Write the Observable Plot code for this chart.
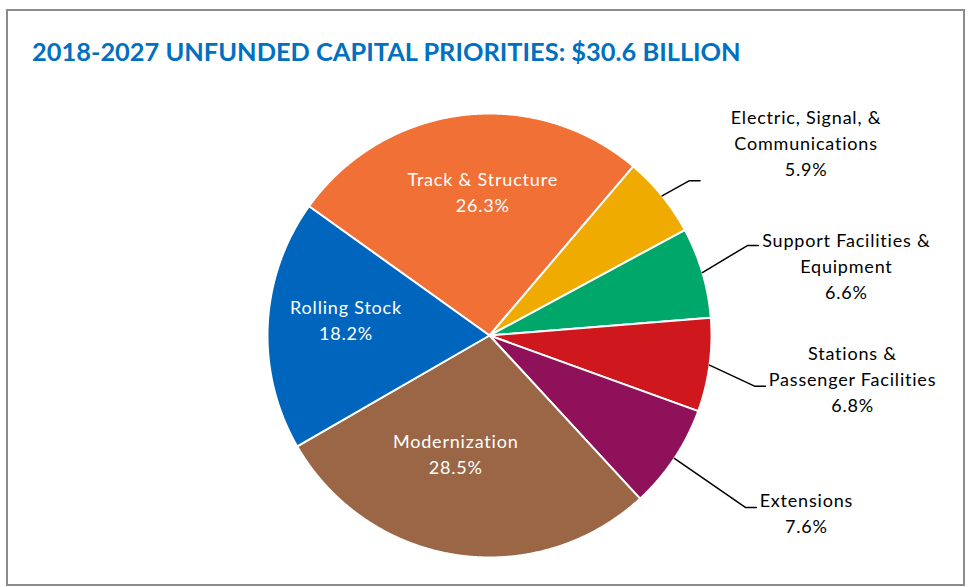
<!DOCTYPE html>
<html><head><meta charset="utf-8">
<script src="https://cdn.jsdelivr.net/npm/d3@7"></script>
<script src="https://cdn.jsdelivr.net/npm/@observablehq/plot@0.6"></script>
<style>
body{margin:0;background:#fff;}
#wrap{position:relative;width:969px;height:587px;overflow:hidden;}
#frame{position:absolute;left:6px;top:9px;width:959px;height:577px;border:2px solid #8c8c8c;box-sizing:border-box;}
#title{position:absolute;left:32px;top:36px;font-family:Lato,"Open Sans",sans-serif;font-weight:bold;font-size:25.4px;color:#0070C0;white-space:nowrap;}
#chart{position:absolute;left:0;top:0;}
</style></head>
<body><div id="wrap"><div id="frame"></div><div id="chart"></div><div id="title">2018-2027 UNFUNDED CAPITAL PRIORITIES: $30.6 BILLION</div></div>
<script>
// ---- data ----
const categories = ["Track & Structure", "Electric, Signal, & Communications", "Support Facilities & Equipment", "Stations & Passenger Facilities", "Extensions", "Modernization", "Rolling Stock"];
const labelText = ["Track & Structure", "Electric, Signal, &\nCommunications", "Support Facilities &\nEquipment", "Stations &\nPassenger Facilities", "Extensions", "Modernization", "Rolling Stock"];
const shares = [26.3, 5.9, 6.6, 6.8, 7.6, 28.5, 18.2];
const colors = ["#F17035", "#EFAB00", "#00A76B", "#CF181E", "#8F1159", "#9A6646", "#0065BD"];
const outside = [false, true, true, true, true, false, false];

// ---- layout (pixels / angles) ----
const R = 222;                 // pixel radius
const startDeg = -54.4;        // first slice start angle (clockwise from 12 o'clock)
const insideR = 0.62;
const insideOff = {0: [10, -8], 5: [-13, -19], 6: [-6, -10]};
const elbowOff = {1: [27, -15], 2: [45, -27], 3: [45, 21], 4: [71, 49]};
const tailPx = 11;
const textOff = {1: [106, -39], 2: [88, 19], 3: [87, -8], 4: [50, 4]};

const data = categories.map((c, i) => ({cat: c, value: shares[i], label: labelText[i] + "\n" + shares[i].toFixed(1) + "%", i}));
const a0 = startDeg * Math.PI / 180;
const arcs = d3.pie().sort(null).value(d => d.value).startAngle(a0).endAngle(a0 + 2 * Math.PI)(data);

const pt = (a, r) => [r * Math.sin(a), r * Math.cos(a)];

const slicePts = [];
arcs.forEach(arc => {
  const c = arc.data.cat;
  slicePts.push({cat: c, x: 0, y: 0});
  const n = Math.max(2, Math.ceil((arc.endAngle - arc.startAngle) / 0.005));
  for (let k = 0; k <= n; k++) {
    const a = arc.startAngle + (arc.endAngle - arc.startAngle) * k / n;
    const [x, y] = pt(a, 1);
    slicePts.push({cat: c, x, y});
  }
  slicePts.push({cat: c, x: 0, y: 0});
});

const insideLabels = [], outsideLabels = [], leaders = [];
arcs.forEach(arc => {
  const i = arc.data.i;
  const mid = (arc.startAngle + arc.endAngle) / 2;
  if (!outside[i]) {
    const [x, y] = pt(mid, insideR);
    const o = insideOff[i] || [0, 0];
    insideLabels.push({x: x + o[0] / R, y: y - o[1] / R, text: arc.data.label});
  } else {
    const [x0, y0] = pt(mid, 1);
    const e = elbowOff[i];
    const x1 = x0 + e[0] / R, y1 = y0 - e[1] / R;
    const x2 = x1 + tailPx / R;
    leaders.push({cat: arc.data.cat, x: x0, y: y0});
    leaders.push({cat: arc.data.cat, x: x1, y: y1});
    leaders.push({cat: arc.data.cat, x: x2, y: y1});
    const o = textOff[i];
    outsideLabels.push({x: x2 + o[0] / R, y: y1 - o[1] / R, text: arc.data.label});
  }
});

const chart = Plot.plot({
  width: 969, height: 587,
  marginLeft: 489 - R, marginRight: 969 - 489 - R, marginTop: 335 - R, marginBottom: 587 - 335 - R,
  x: {domain: [-1, 1], axis: null},
  y: {domain: [-1, 1], axis: null},
  color: {domain: categories, range: colors},
  style: {fontFamily: "Lato, 'Open Sans', sans-serif", background: "transparent", letterSpacing: "0.8px"},
  marks: [
    Plot.line(slicePts, {x: "x", y: "y", z: "cat", fill: "cat", stroke: "white", strokeWidth: 2, strokeLinejoin: "round", curve: "linear"}),
    Plot.line(leaders, {x: "x", y: "y", z: "cat", stroke: "black", strokeWidth: 1.5, curve: "linear"}),
    Plot.text(insideLabels, {x: "x", y: "y", text: "text", fill: "white", fontSize: 18, lineHeight: 1.444}),
    Plot.text(outsideLabels, {x: "x", y: "y", text: "text", fill: "black", fontSize: 18, lineHeight: 1.444})
  ]
});
document.getElementById("chart").appendChild(chart);
</script>
</body></html>
